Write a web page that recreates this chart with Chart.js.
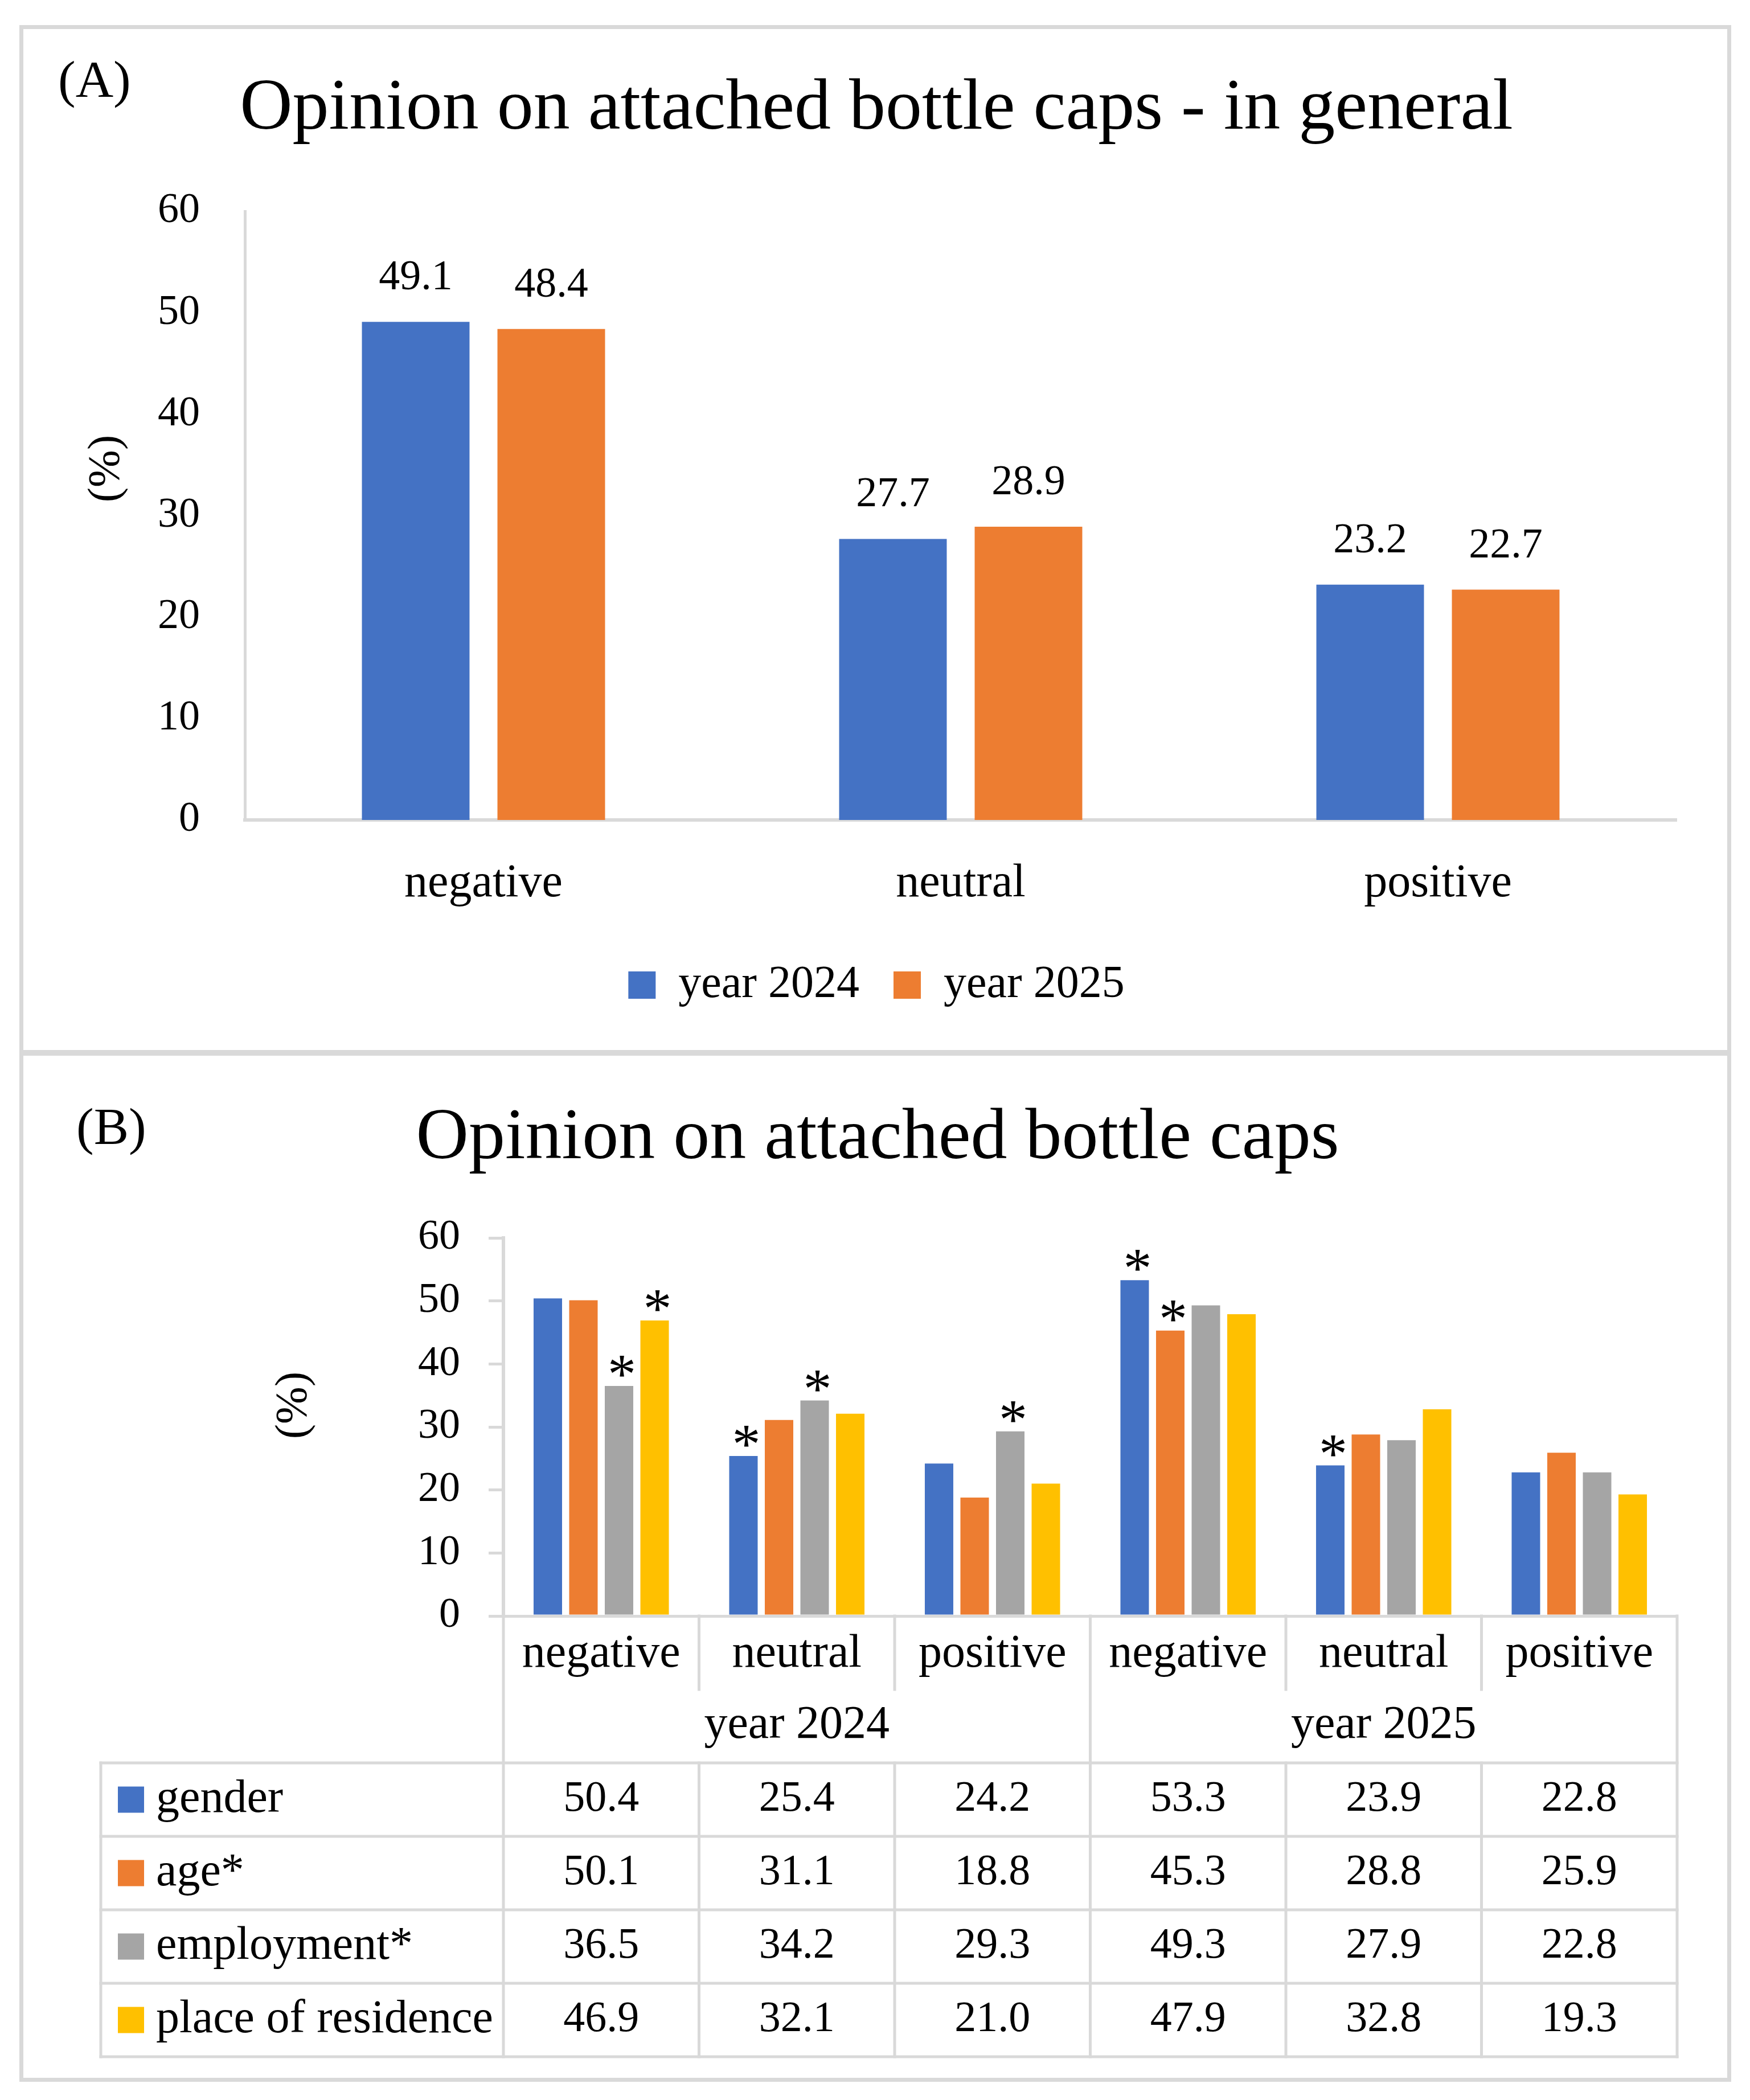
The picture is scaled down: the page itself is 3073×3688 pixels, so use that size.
<!DOCTYPE html>
<html>
<head>
<meta charset="utf-8">
<script src="https://cdn.jsdelivr.net/npm/chart.js@4.4.1/dist/chart.umd.min.js"></script>
<style>
  html, body { margin: 0; padding: 0; background: #fff; }
  body { width: 3073px; height: 3688px; position: relative; overflow: hidden; }
  .box { position: absolute; border: 7px solid #d9d9d9; box-sizing: border-box; }
  #boxA { left: 34px; top: 44px; width: 3006px; height: 1805px; border-bottom-width: 5px; }
  #boxB { left: 34px; top: 1849px; width: 3006px; height: 1807px; border-top-width: 5px; }
  canvas { position: absolute; left: 0; }
  #chartA { top: 0; }
  #chartB { top: 1849px; }
</style>
</head>
<body>
<div class="box" id="boxA"></div>
<div class="box" id="boxB"></div>
<canvas id="chartA" width="3073" height="1849"></canvas>
<canvas id="chartB" width="3073" height="1839"></canvas>
<script>
// panel A data
let opinions = ['negative', 'neutral', 'positive'];
let year2024 = [49.1, 27.7, 23.2];
let year2025 = [48.4, 28.9, 22.7];

// panel B data
let groupLabels = ['year 2024', 'year 2025'];
let opinionsByYear = ['negative', 'neutral', 'positive', 'negative', 'neutral', 'positive'];
let seriesNames = ['gender', 'age*', 'employment*', 'place of residence'];
let gender     = [50.4, 25.4, 24.2, 53.3, 23.9, 22.8];
let age        = [50.1, 31.1, 18.8, 45.3, 28.8, 25.9];
let employment = [36.5, 34.2, 29.3, 49.3, 27.9, 22.8];
let residence  = [46.9, 32.1, 21.0, 47.9, 32.8, 19.3];
// 1 = significant difference, marked with * above the bar
let genderStars     = [0, 1, 0, 1, 1, 0];
let ageStars        = [0, 0, 0, 1, 0, 0];
let employmentStars = [1, 1, 1, 0, 0, 0];
let residenceStars  = [1, 0, 0, 0, 0, 0];

let blue = '#4472C4', orange = '#ED7D31', grey = '#A5A5A5', gold = '#FFC000';
let lineGrey = '#d9d9d9';
let serif = "'Liberation Serif', 'Times New Roman', serif";

Chart.defaults.font.family = serif;
Chart.defaults.color = '#000';

// panel tag and the rotated (%) label
function sideText(tag, tagX, tagY, axisX, axisY) {
  return {
    id: 'sideText',
    afterDraw(chart) {
      let ctx = chart.ctx;
      ctx.save();
      ctx.fillStyle = '#000';
      ctx.font = '92px ' + serif;
      ctx.textAlign = 'left';
      ctx.textBaseline = 'middle';
      ctx.fillText(tag, tagX, tagY);
      ctx.font = '79px ' + serif;
      ctx.translate(axisX, axisY);
      ctx.rotate(-Math.PI / 2);
      ctx.textAlign = 'center';
      ctx.fillText('(%)', 0, 0);
      ctx.restore();
    }
  };
}

// numbers over the bars of panel A
let barValues = {
  id: 'barValues',
  afterDatasetsDraw(chart) {
    let ctx = chart.ctx;
    ctx.save();
    ctx.font = '74px ' + serif;
    ctx.fillStyle = '#000';
    ctx.textAlign = 'center';
    ctx.textBaseline = 'alphabetic';
    chart.data.datasets.forEach((ds, i) => {
      chart.getDatasetMeta(i).data.forEach((bar, j) => {
        ctx.fillText(ds.data[j].toFixed(1), bar.x, bar.y - 57);
      });
    });
    ctx.restore();
  }
};

// asterisks over the bars of panel B
let starMarks = {
  id: 'starMarks',
  afterDatasetsDraw(chart) {
    let ctx = chart.ctx;
    ctx.save();
    ctx.font = '100px ' + serif;
    ctx.fillStyle = '#000';
    ctx.textAlign = 'center';
    ctx.textBaseline = 'alphabetic';
    chart.data.datasets.forEach((ds, i) => {
      chart.getDatasetMeta(i).data.forEach((bar, j) => {
        if (ds.stars[j]) ctx.fillText('*', bar.x + 5, bar.y + 12);
      });
    });
    ctx.restore();
  }
};

// data table under panel B, laid out on the x scale
let dataTable = {
  id: 'dataTable',
  afterDraw(chart) {
    let ctx = chart.ctx;
    let x = chart.scales.x;
    let area = chart.chartArea;
    let n = opinionsByYear.length;
    let edge = i => x.getPixelForValue(i - 0.5);
    let labelRowBottom = 1118, tableTop = 1247, rowH = 129, tableLeft = 177;
    let sets = chart.data.datasets;
    let tableBottom = tableTop + rowH * sets.length;

    ctx.save();
    ctx.strokeStyle = lineGrey;
    ctx.lineWidth = 5;
    ctx.lineCap = 'square';
    let line = (x1, y1, x2, y2) => {
      ctx.beginPath(); ctx.moveTo(x1, y1); ctx.lineTo(x2, y2); ctx.stroke();
    };
    for (let i = 0; i <= n; i++) {
      let px = edge(i);
      if (i % 3 === 0) {
        line(px, area.bottom, px, tableBottom);
      } else {
        line(px, area.bottom, px, labelRowBottom);
        line(px, tableTop, px, tableBottom);
      }
    }
    line(tableLeft, tableTop, tableLeft, tableBottom);
    for (let r = 0; r <= sets.length; r++) {
      line(tableLeft, tableTop + r * rowH, edge(n), tableTop + r * rowH);
    }

    ctx.fillStyle = '#000';
    ctx.textBaseline = 'middle';
    ctx.textAlign = 'center';
    ctx.font = '82px ' + serif;
    groupLabels.forEach((g, k) => {
      ctx.fillText(g, (edge(k * 3) + edge(k * 3 + 3)) / 2, 1181);
    });

    sets.forEach((ds, r) => {
      let cy = tableTop + r * rowH + rowH / 2;
      ctx.fillStyle = ds.backgroundColor;
      ctx.fillRect(207, cy - 23, 46, 46);
      ctx.fillStyle = '#000';
      ctx.textAlign = 'left';
      ctx.font = '82px ' + serif;
      ctx.fillText(ds.label, 274, cy);
      ctx.textAlign = 'center';
      ctx.font = '76px ' + serif;
      ds.data.forEach((v, j) => {
        ctx.fillText(v.toFixed(1), x.getPixelForValue(j), cy);
      });
    });
    ctx.restore();
  }
};

new Chart(document.getElementById('chartA'), {
  type: 'bar',
  data: {
    labels: opinions,
    datasets: [
      { label: 'year 2024', data: year2024, backgroundColor: blue, borderWidth: 0 },
      { label: 'year 2025', data: year2025, backgroundColor: orange, borderWidth: 0 }
    ]
  },
  options: {
    responsive: false,
    animation: false,
    devicePixelRatio: 1,
    barPercentage: 0.794,
    categoryPercentage: 0.568,
    layout: { padding: { left: 134, right: 129, top: 0, bottom: 69 } },
    plugins: {
      title: {
        display: true,
        text: 'Opinion on attached bottle caps - in general',
        color: '#000',
        font: { size: 128, weight: 'normal', lineHeight: 1 },
        padding: { top: 128, bottom: 115 }
      },
      legend: {
        display: true,
        position: 'bottom',
        labels: { boxWidth: 48, boxHeight: 48, padding: 60, color: '#000', font: { size: 80 } }
      },
      tooltip: { enabled: false }
    },
    scales: {
      x: {
        z: 1,
        grid: { display: false },
        border: { display: true, color: lineGrey, width: 6 },
        ticks: { font: { size: 82, lineHeight: 1 }, padding: 63, color: '#000' },
        afterFit: s => { s.height = 190; }
      },
      y: {
        min: 0, max: 60,
        grid: { display: false, drawTicks: false },
        border: { display: true, color: lineGrey, width: 5 },
        ticks: { stepSize: 10, font: { size: 74 }, padding: 79, color: '#000' },
        afterFit: s => { s.width = 296; }
      }
    }
  },
  plugins: [barValues, sideText('(A)', 102, 146, 187, 823)]
});

new Chart(document.getElementById('chartB'), {
  type: 'bar',
  data: {
    labels: opinionsByYear,
    datasets: [
      { label: seriesNames[0], data: gender, stars: genderStars, backgroundColor: blue, borderWidth: 0 },
      { label: seriesNames[1], data: age, stars: ageStars, backgroundColor: orange, borderWidth: 0 },
      { label: seriesNames[2], data: employment, stars: employmentStars, backgroundColor: grey, borderWidth: 0 },
      { label: seriesNames[3], data: residence, stars: residenceStars, backgroundColor: gold, borderWidth: 0 }
    ]
  },
  options: {
    responsive: false,
    animation: false,
    devicePixelRatio: 1,
    barPercentage: 0.8,
    categoryPercentage: 0.728,
    layout: { padding: { left: 137, right: 128, top: 0, bottom: 0 } },
    plugins: {
      title: {
        display: true,
        text: 'Opinion on attached bottle caps',
        color: '#000',
        font: { size: 128, weight: 'normal', lineHeight: 1 },
        padding: { top: 87, bottom: 110 }
      },
      legend: { display: false },
      tooltip: { enabled: false }
    },
    scales: {
      x: {
        z: 1,
        grid: { display: false },
        border: { display: true, color: lineGrey, width: 5 },
        ticks: { font: { size: 82, lineHeight: 1 }, padding: 18, color: '#000', autoSkip: false, maxRotation: 0 },
        afterFit: s => { s.height = 850; }
      },
      y: {
        min: 0, max: 60,
        grid: { display: true, drawOnChartArea: false, drawTicks: true, tickLength: 26, color: lineGrey, lineWidth: 5 },
        border: { display: true, color: lineGrey, width: 6 },
        ticks: { stepSize: 10, font: { size: 74 }, padding: 50, color: '#000' },
        afterFit: s => { s.width = 747; }
      }
    }
  },
  plugins: [starMarks, dataTable, sideText('(B)', 134, 136, 516, 619)]
});
</script>
</body>
</html>
